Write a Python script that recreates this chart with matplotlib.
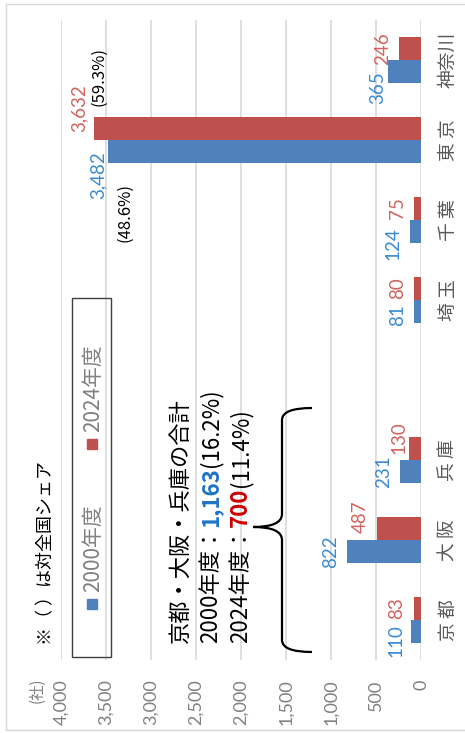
"""Companies by prefecture, 2000 vs 2024 (rotated bar chart)."""
import numpy as np
import matplotlib
matplotlib.use("Agg")
import matplotlib.pyplot as plt
import matplotlib.patches as mpatches
from matplotlib.path import Path

W, H = 465, 733

# one empty slot between 兵庫 and 埼玉
PREFS = ["京 都", "大 阪", "兵 庫", "", "埼 玉", "千 葉", "東 京", "神奈川"]
Y2000 = [110, 822, 231, np.nan, 81, 124, 3482, 365]
Y2024 = [83, 487, 130, np.nan, 80, 75, 3632, 246]
SERIES = ["2000年度", "2024年度"]
XTICKS = list(range(0, 4001, 500))
TOKYO_SHARE = ["(48.6%)", "(59.3%)"]
KANSAI_SHARE = ["(16.2%)", "(11.4%)"]

BLUE, RED = "#4F81BD", "#C0504D"
BLUE_TXT, RED_TXT = "#3A8AD2", "#D4625D"
GRAY = "#808080"
JP = ["Noto Sans CJK JP", "DejaVu Sans"]
NUM = ["Lato", "Noto Sans CJK JP", "DejaVu Sans"]

# label nudges (image px: dx right, dy down)
NUDGE_2000 = [(1, 9), (0, 0), (0, 0), None, (0, 3), (0, 12), (7, 24), (6, 16)]
NUDGE_2024 = [(0, 0), (0, -12), (6, -11), None, (0, 0), (0, 0), (1, -20), (0, 0)]

plt.rcParams["font.family"] = JP


def fx(x):
    return x / W


def fy(y):
    return 1 - y / H


fig = plt.figure(figsize=(W / 100, H / 100), dpi=100)
ax = fig.add_axes([61 / W, 1 - 660 / H, 360 / W, 640 / H])

pos = np.arange(len(PREFS))
h = 0.29
ax.barh(pos - h / 2, Y2000, height=h, color=BLUE, zorder=2)
ax.barh(pos + h / 2, Y2024, height=h, color=RED, zorder=2)

ax.set_xlim(4000, 0)
ax.set_ylim(-0.5, len(PREFS) - 0.5)
ax.set_xticks(XTICKS)
ax.set_xticklabels([f"{t:,}" for t in XTICKS], rotation=90, family=NUM)
ax.tick_params(axis="x", length=0, pad=14, labelsize=13, labelcolor=GRAY)
ax.set_yticks([])
ax.grid(axis="x", color="#D9D9D9", lw=1.2, zorder=0)
for s in ax.spines.values():
    s.set_visible(False)

for i, p in enumerate(PREFS):
    ax.text(1.075, i, p, transform=ax.get_yaxis_transform(), rotation=90,
            ha="center", va="center", fontsize=13.5, color="#595959")

# value labels at bar ends
for vals, off, col, nudges in [(Y2000, -h / 2, BLUE_TXT, NUDGE_2000),
                               (Y2024, h / 2, RED_TXT, NUDGE_2024)]:
    for i, v in enumerate(vals):
        if np.isnan(v):
            continue
        dx, dy = nudges[i]
        ax.annotate(f"{v:,.0f}", xy=(v, i + off), xytext=(-8 + dx, -dy),
                    textcoords="offset pixels", rotation=90, ha="right",
                    va="center", fontsize=13.5, color=col, family=NUM)

# Tokyo national shares
ax.text(3578, 6.79, TOKYO_SHARE[1], rotation=90, ha="center", va="center",
        fontsize=12, color="black")
ax.text(3289, 5.10, TOKYO_SHARE[0], rotation=90, ha="center", va="center",
        fontsize=12, color="black")

# outer frame
fig.add_artist(mpatches.Rectangle((fx(6), fy(730)), 1.2, fy(4) - fy(730),
                                  transform=fig.transFigure, fill=False,
                                  edgecolor="#D9D9D9", lw=1))

# legend box drawn by hand (rotated)
fig.add_artist(mpatches.Rectangle((fx(72), fy(657)), (111 - 72) / W,
                                  (657 - 298) / H, transform=fig.transFigure,
                                  fill=False, edgecolor="#3F3F3F", lw=1))
for col, ymark, ytxt, lab in [(BLUE, 609, 592, SERIES[0]),
                              (RED, 449, 432, SERIES[1])]:
    fig.add_artist(mpatches.Rectangle((fx(87), fy(ymark)), 10 / W, 10 / H,
                                      transform=fig.transFigure, color=col))
    fig.text(fx(99), fy(ytxt), lab, rotation=90, rotation_mode="anchor",
             ha="left", va="baseline", fontsize=15, color=GRAY)

fig.text(fx(51), fy(645), "※（ ）は対全国シェア", rotation=90,
         rotation_mode="anchor", ha="left", va="baseline", fontsize=13,
         color="black")
fig.text(fx(37), fy(690), "(社)", rotation=90, ha="center", va="center",
         fontsize=11, color=GRAY)

# brace over 京都〜兵庫
verts = [(312, 408), (282, 408), (282, 420), (282, 514), (282, 527),
         (253, 527), (282, 527), (282, 540), (282, 640), (282, 652),
         (312, 652)]
codes = [Path.MOVETO, Path.CURVE3, Path.CURVE3, Path.LINETO, Path.CURVE3,
         Path.CURVE3, Path.CURVE3, Path.CURVE3, Path.LINETO, Path.CURVE3,
         Path.CURVE3]
brace = Path([(fx(x), fy(y)) for x, y in verts], codes)
fig.add_artist(mpatches.PathPatch(brace, transform=fig.transFigure,
                                  fill=False, edgecolor="black", lw=1.6))

# Kansai totals, written piece by piece so numbers can be coloured
renderer = fig.canvas.get_renderer()


def rotated_line(x_img, y_img, pieces, size=16):
    y = fy(y_img)
    for s, col, wt in pieces:
        t = fig.text(fx(x_img), y, s, rotation=90, rotation_mode="anchor",
                     ha="left", va="baseline", fontsize=size, color=col,
                     fontweight=wt)
        y = t.get_window_extent(renderer).y1 / H


sum2000 = int(np.nansum(Y2000[:3]))
sum2024 = int(np.nansum(Y2024[:3]))
rotated_line(187, 643, [("京都・大阪・兵庫の合計", "black", "normal")])
rotated_line(217, 643, [("2000年度：", "black", "normal"),
                        (f"{sum2000:,}", "#1F74C6", "bold"),
                        (KANSAI_SHARE[0], "black", "normal")])
rotated_line(247, 643, [("2024年度：", "black", "normal"),
                        (f"{sum2024:,}", "#CC0000", "bold"),
                        (KANSAI_SHARE[1], "black", "normal")])

fig.savefig("out.png", dpi=100, facecolor="white")
